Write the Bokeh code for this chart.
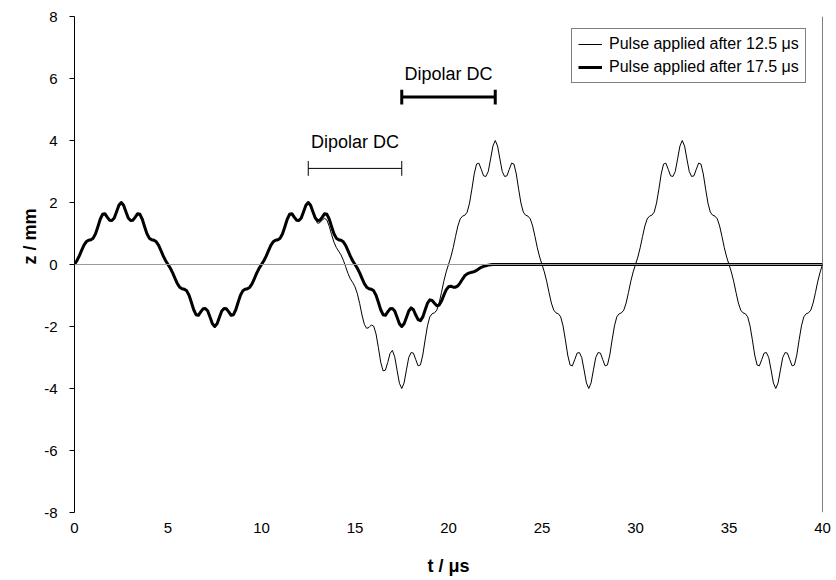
import numpy as np
from bokeh.core.properties import value
from bokeh.embed import file_html
from bokeh.models import FixedTicker, Legend, LegendItem, PrintfTickFormatter, Range1d, Span, Title
from bokeh.plotting import figure
from bokeh.resources import INLINE

# Axial ion position z (mm), sampled every 0.125 us
SAMPLE_STEP = 0.125

# Dipolar DC pulse applied after 12.5 us (one row per microsecond, 0 .. 40 us)
z_pulse_12_5 = [
    0.00, 0.12, 0.27, 0.45, 0.62, 0.73, 0.78, 0.80,
    0.85, 0.99, 1.22, 1.46, 1.62, 1.64, 1.53, 1.43,
    1.42, 1.50, 1.70, 1.91, 2.00, 1.91, 1.70, 1.50,
    1.42, 1.43, 1.53, 1.64, 1.62, 1.46, 1.22, 0.99,
    0.85, 0.80, 0.78, 0.73, 0.62, 0.45, 0.27, 0.12,
    0.00, -0.12, -0.27, -0.45, -0.62, -0.73, -0.78, -0.80,
    -0.85, -0.99, -1.22, -1.46, -1.62, -1.64, -1.53, -1.43,
    -1.42, -1.50, -1.70, -1.91, -2.00, -1.91, -1.70, -1.50,
    -1.42, -1.43, -1.53, -1.64, -1.62, -1.46, -1.22, -0.99,
    -0.85, -0.80, -0.78, -0.73, -0.62, -0.45, -0.27, -0.12,
    0.00, 0.12, 0.27, 0.45, 0.62, 0.73, 0.78, 0.80,
    0.85, 0.99, 1.22, 1.46, 1.62, 1.64, 1.53, 1.43,
    1.42, 1.50, 1.70, 1.91, 2.00, 1.91, 1.69, 1.46,
    1.33, 1.35, 1.44, 1.49, 1.43, 1.23, 0.96, 0.72,
    0.55, 0.43, 0.31, 0.14, -0.07, -0.29, -0.46, -0.58,
    -0.72, -0.94, -1.26, -1.63, -1.93, -2.06, -2.03, -1.95,
    -1.99, -2.24, -2.68, -3.15, -3.43, -3.41, -3.16, -2.87,
    -2.77, -2.98, -3.41, -3.83, -4.00, -3.82, -3.40, -3.00,
    -2.84, -2.86, -3.07, -3.27, -3.24, -2.92, -2.43, -1.98,
    -1.69, -1.59, -1.56, -1.47, -1.24, -0.90, -0.54, -0.24,
    0.00, 0.24, 0.54, 0.90, 1.24, 1.47, 1.56, 1.59,
    1.69, 1.98, 2.43, 2.92, 3.24, 3.27, 3.07, 2.86,
    2.84, 3.00, 3.40, 3.82, 4.00, 3.82, 3.40, 3.00,
    2.84, 2.86, 3.07, 3.27, 3.24, 2.92, 2.43, 1.98,
    1.69, 1.59, 1.56, 1.47, 1.24, 0.90, 0.54, 0.24,
    0.00, -0.24, -0.54, -0.90, -1.24, -1.47, -1.56, -1.59,
    -1.69, -1.98, -2.43, -2.92, -3.24, -3.27, -3.07, -2.86,
    -2.84, -3.00, -3.40, -3.82, -4.00, -3.82, -3.40, -3.00,
    -2.84, -2.86, -3.07, -3.27, -3.24, -2.92, -2.43, -1.98,
    -1.69, -1.59, -1.56, -1.47, -1.24, -0.90, -0.54, -0.24,
    0.00, 0.24, 0.54, 0.90, 1.24, 1.47, 1.56, 1.59,
    1.69, 1.98, 2.43, 2.92, 3.24, 3.27, 3.07, 2.86,
    2.84, 3.00, 3.40, 3.82, 4.00, 3.82, 3.40, 3.00,
    2.84, 2.86, 3.07, 3.27, 3.24, 2.92, 2.43, 1.98,
    1.69, 1.59, 1.56, 1.47, 1.24, 0.90, 0.54, 0.24,
    0.00, -0.24, -0.54, -0.90, -1.24, -1.47, -1.56, -1.59,
    -1.69, -1.98, -2.43, -2.92, -3.24, -3.27, -3.07, -2.86,
    -2.84, -3.00, -3.40, -3.82, -4.00, -3.82, -3.40, -3.00,
    -2.84, -2.86, -3.07, -3.27, -3.24, -2.92, -2.43, -1.98,
    -1.69, -1.59, -1.56, -1.47, -1.24, -0.90, -0.54, -0.24,
    0.00,
]

# Dipolar DC pulse applied after 17.5 us (0 .. 22.5 us); the ion then rests at z = 0
z_pulse_17_5 = [
    0.00, 0.12, 0.27, 0.45, 0.62, 0.73, 0.78, 0.80,
    0.85, 0.99, 1.22, 1.46, 1.62, 1.64, 1.53, 1.43,
    1.42, 1.50, 1.70, 1.91, 2.00, 1.91, 1.70, 1.50,
    1.42, 1.43, 1.53, 1.64, 1.62, 1.46, 1.22, 0.99,
    0.85, 0.80, 0.78, 0.73, 0.62, 0.45, 0.27, 0.12,
    0.00, -0.12, -0.27, -0.45, -0.62, -0.73, -0.78, -0.80,
    -0.85, -0.99, -1.22, -1.46, -1.62, -1.64, -1.53, -1.43,
    -1.42, -1.50, -1.70, -1.91, -2.00, -1.91, -1.70, -1.50,
    -1.42, -1.43, -1.53, -1.64, -1.62, -1.46, -1.22, -0.99,
    -0.85, -0.80, -0.78, -0.73, -0.62, -0.45, -0.27, -0.12,
    0.00, 0.12, 0.27, 0.45, 0.62, 0.73, 0.78, 0.80,
    0.85, 0.99, 1.22, 1.46, 1.62, 1.64, 1.53, 1.43,
    1.42, 1.50, 1.70, 1.91, 2.00, 1.91, 1.70, 1.50,
    1.42, 1.43, 1.53, 1.64, 1.62, 1.46, 1.22, 0.99,
    0.85, 0.80, 0.78, 0.73, 0.62, 0.45, 0.27, 0.12,
    0.00, -0.12, -0.27, -0.45, -0.62, -0.73, -0.78, -0.80,
    -0.85, -0.99, -1.22, -1.46, -1.62, -1.64, -1.53, -1.43,
    -1.42, -1.50, -1.70, -1.91, -2.00, -1.91, -1.71, -1.50,
    -1.40, -1.46, -1.63, -1.78, -1.81, -1.69, -1.47, -1.25,
    -1.14, -1.16, -1.25, -1.33, -1.31, -1.18, -0.99, -0.82,
    -0.72, -0.70, -0.73, -0.73, -0.69, -0.59, -0.47, -0.36,
    -0.30, -0.27, -0.25, -0.23, -0.19, -0.14, -0.09, -0.06,
    -0.04, -0.02, -0.01, 0.00, 0.00,
]
rest_t = [40.0]
rest_z = [0.00]

series_labels = ["Pulse applied after 12.5 \u03bcs", "Pulse applied after 17.5 \u03bcs"]

# Dipolar DC pulse windows (us) and their bracket annotations
pulse_start = [12.5, 17.5]
pulse_end = [17.5, 22.5]
pulse_text = ["Dipolar DC", "Dipolar DC"]

x_ticks = [0, 5, 10, 15, 20, 25, 30, 35, 40]
y_ticks = [-8, -6, -4, -2, 0, 2, 4, 6, 8]

FONT = "Liberation Sans"

t12 = np.arange(len(z_pulse_12_5)) * SAMPLE_STEP
t17 = np.concatenate([np.arange(len(z_pulse_17_5)) * SAMPLE_STEP, rest_t])
z17 = list(z_pulse_17_5) + rest_z

p = figure(
    width=836, height=580,
    x_range=Range1d(0, 40), y_range=Range1d(-8, 8),
    output_backend="svg", toolbar_location=None,
    min_border_left=74, min_border_right=14, min_border_top=16, min_border_bottom=68,
)
p.xgrid.visible = False
p.ygrid.visible = False
p.outline_line_color = None
p.background_fill_color = "white"
p.border_fill_color = "white"

# y axis: black line with outward ticks
p.yaxis.ticker = FixedTicker(ticks=y_ticks)
p.yaxis.formatter = PrintfTickFormatter(format="%d")
p.yaxis.axis_line_color = "black"
p.yaxis.major_tick_line_color = "black"
p.yaxis.major_tick_out = 5
p.yaxis.major_tick_in = 0
p.yaxis.minor_tick_line_color = None
p.yaxis.major_label_standoff = 12
p.yaxis.major_label_text_font = FONT
p.yaxis.major_label_text_font_size = "15px"
p.yaxis.major_label_text_color = "black"

# x axis: labels only, the axis line itself runs through z = 0
p.xaxis.ticker = FixedTicker(ticks=x_ticks)
p.xaxis.formatter = PrintfTickFormatter(format="%d")
p.xaxis.axis_line_color = None
p.xaxis.major_tick_line_color = None
p.xaxis.minor_tick_line_color = None
p.xaxis.major_label_standoff = 4
p.xaxis.major_label_text_font = FONT
p.xaxis.major_label_text_font_size = "15px"
p.xaxis.major_label_text_color = "black"
p.xaxis.axis_label = "t / \u03bcs"
p.xaxis.axis_label_standoff = 20
p.xaxis.axis_label_text_font = FONT
p.xaxis.axis_label_text_font_size = "18px"
p.xaxis.axis_label_text_font_style = "bold"
p.xaxis.axis_label_text_color = "black"

# y title sits a little above the middle of the axis
p.add_layout(Title(text="z / mm", align="left", offset=248, standoff=4,
                   text_font=FONT, text_font_size="18px", text_font_style="bold",
                   text_color="black"), "left")

p.add_layout(Span(location=0, dimension="width", line_color="#9a9a9a", line_width=1))
p.add_layout(Span(location=40, dimension="height", line_color="black", line_width=1))

thin = p.line(t12, z_pulse_12_5, line_color="black", line_width=1, line_join="round")
thick = p.line(t17, z17, line_color="black", line_width=3, line_join="round")

# Dipolar DC brackets with their captions
bracket_z = [3.1, 5.4]
caption_z = [3.95, 6.15]
bracket_w = [1, 3]
cap_half = 0.24
for s, e, bz, cz, w, txt in zip(pulse_start, pulse_end, bracket_z, caption_z, bracket_w, pulse_text):
    p.segment(x0=[s], y0=[bz], x1=[e], y1=[bz], line_color="black", line_width=w)
    p.segment(x0=[s, e], y0=[bz - cap_half] * 2, x1=[s, e], y1=[bz + cap_half] * 2,
              line_color="black", line_width=w)
    p.text(x=[(s + e) / 2], y=[cz], text=[txt], text_font=value(FONT), text_font_size="18px",
           text_align="center", text_baseline="middle", text_color="black")

legend = Legend(
    items=[LegendItem(label=series_labels[0], renderers=[thin]),
           LegendItem(label=series_labels[1], renderers=[thick])],
    location=(497, 429),
    border_line_color="black", border_line_width=1,
    background_fill_color="white", background_fill_alpha=1.0,
    label_text_font=FONT, label_text_font_size="16px", label_text_color="black",
    glyph_width=24, glyph_height=18, label_height=18, label_standoff=7,
    spacing=5, padding=6, margin=0,
)
p.add_layout(legend)

open("out.html", "w").write(file_html(p, INLINE))
